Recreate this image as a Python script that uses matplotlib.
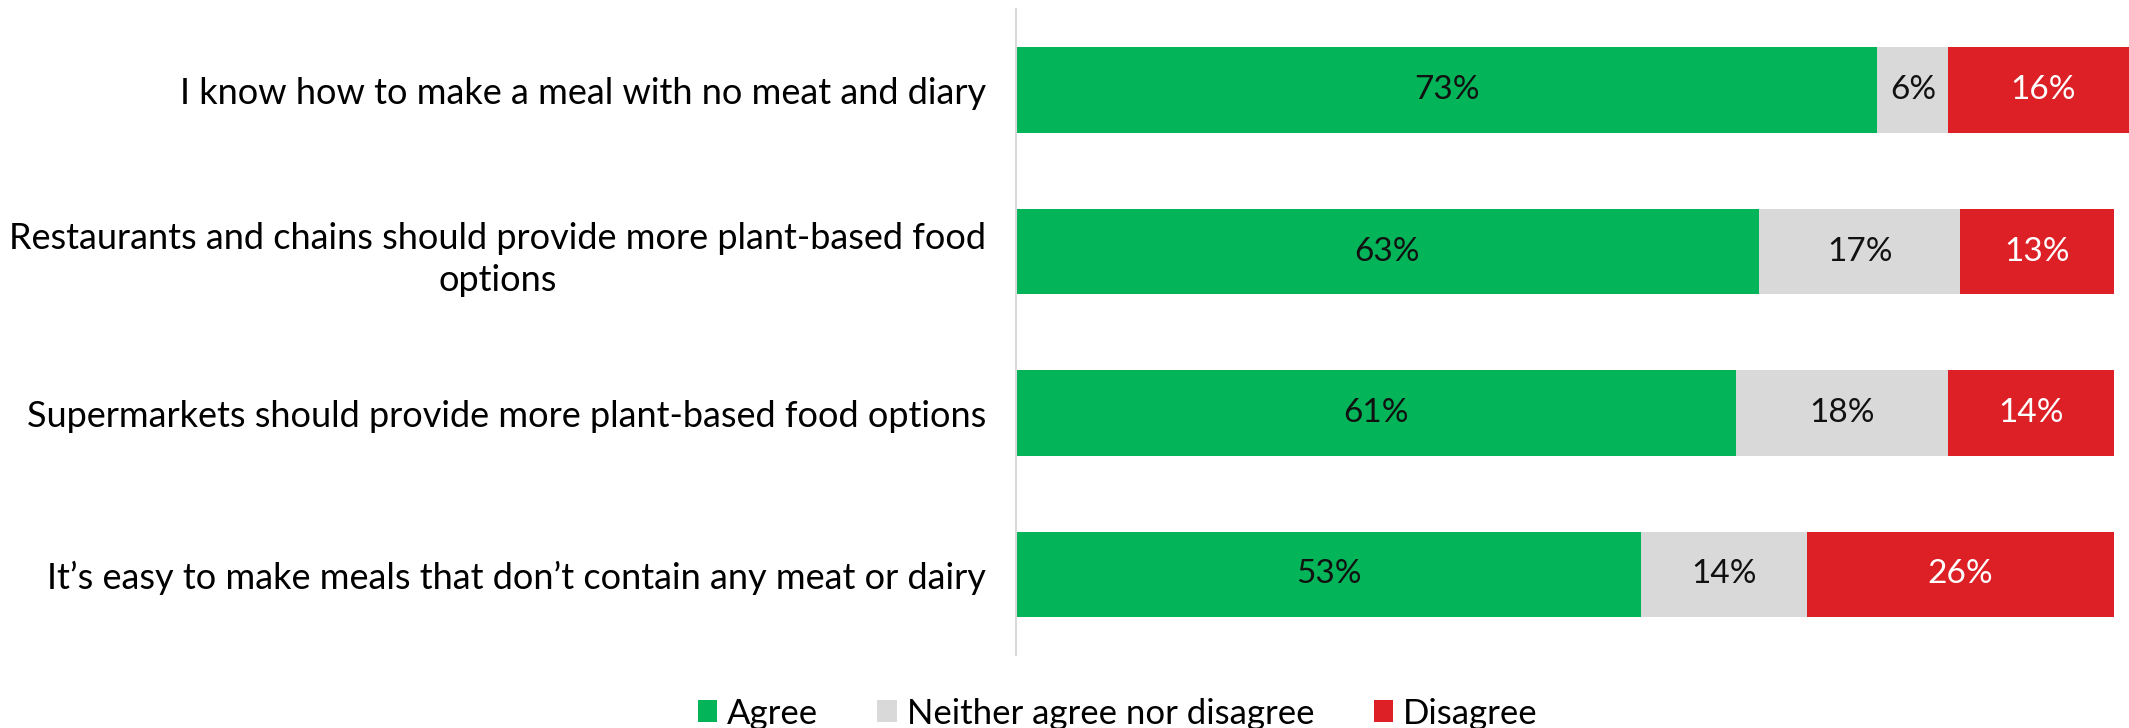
import numpy as np
import matplotlib
matplotlib.use("Agg")
import matplotlib.pyplot as plt

plt.rcParams['font.family'] = ['Lato', 'DejaVu Sans']

statements = [
	"I know how to make a meal with no meat and diary",
	"Restaurants and chains should provide more plant-based food\noptions",
	"Supermarkets should provide more plant-based food options",
	"It\u2019s easy to make meals that don\u2019t contain any meat or dairy",
]
agree = [73, 63, 61, 53]
neither = [6, 17, 18, 14]
disagree = [16, 13, 14, 26]

series_names = ["Agree", "Neither agree nor disagree", "Disagree"]
colors = ["#03B458", "#D9D9D9", "#DC2026"]
text_colors = ["#111111", "#111111", "white"]

fig = plt.figure(figsize=(21.29, 7.28), dpi=100)
ax = fig.add_axes([0.477, 0.10, 0.523, 0.887])

y = np.arange(len(statements))
left = np.zeros(len(statements))
for vals, name, col, tcol in zip([agree, neither, disagree], series_names, colors, text_colors):
	vals = np.array(vals, dtype=float)
	bars = ax.barh(y, vals, left=left, height=0.53, color=col, label=name, edgecolor="none")
	for i, v in enumerate(vals):
		ax.text(left[i] + v / 2, y[i], "{0:.0f}%".format(v), ha="center", va="center",
			fontsize=24, color=tcol)
	left += vals

ax.set_xlim(0, 94.3)
ax.set_ylim(3.5, -0.5)
ax.set_yticks(y)
ax.set_yticklabels(statements, fontsize=26, ha="right", multialignment="center",
	linespacing=1.33)
ax.tick_params(axis="y", length=0, pad=21)
ax.set_xticks([])

for s in ["top", "right", "bottom"]:
	ax.spines[s].set_visible(False)
ax.spines["left"].set_color("#D9D9D9")
ax.spines["left"].set_linewidth(1.5)

fig.legend(loc="lower center", bbox_to_anchor=(0.525, -0.045), ncol=3, frameon=False,
	fontsize=25, handlelength=0.55, handleheight=0.6, handletextpad=0.3, columnspacing=1.7)

fig.savefig("out.png", dpi=100)
